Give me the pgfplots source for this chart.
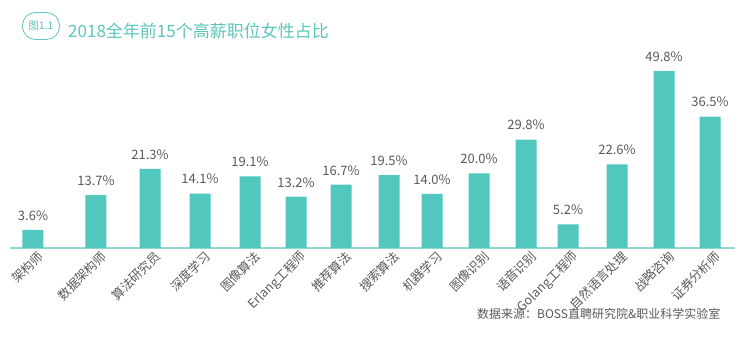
\documentclass[border=0pt]{standalone}
\usepackage{pgfplots}
\pgfplotsset{compat=1.18}
\usepackage{pgfplotstable}
\usepackage{fontspec}
\setmainfont{Noto Sans CJK SC}
\definecolor{barc}{HTML}{52C7BD}
\definecolor{linec}{HTML}{8ED9D2}
\definecolor{txt}{HTML}{595959}
\definecolor{ttl}{HTML}{5CC5BC}
\pgfplotstableread{
x v
33 3.6
96 13.7
150 21.3
200 14.1
250 19.1
296 13.2
341 16.7
389 19.5
432 14.0
479 20.0
526 29.8
568 5.2
617 22.6
664 49.8
710 36.5
}\datatable
\begin{document}
\begin{tikzpicture}[x=1pt,y=1pt]
\path[use as bounding box] (0,0) rectangle (748,361);
\begin{axis}[
  at={(10pt,113pt)}, anchor=south west,
  scale only axis, width=725pt, height=184.7pt,
  xmin=10, xmax=735, ymin=0, ymax=53.7,
  axis x line*=bottom, axis y line=none,
  x axis line style={draw=linec, line width=1.5pt, -},
  ytick=\empty,
  xtick={33,96,150,200,250,296,341,389,432,479,526,568,617,664,710},
  xticklabels={架构师,数据架构师,算法研究员,深度学习,图像算法,Erlang工程师,推荐算法,搜索算法,机器学习,图像识别,语音识别,Golang工程师,自然语言处理,战略咨询,证券分析师},
  major tick length=0pt,
  xticklabel style={rotate=45, anchor=east, font=\fontsize{12.5}{12.5}\selectfont, text=txt, xshift=5pt, yshift=-10pt},
  clip=false,
  ybar, bar width=21pt,
  y filter/.expression={y+1.7},
  point meta=explicit,
  /pgf/number format/assume math mode=true,
  nodes near coords={\pgfmathprintnumber[fixed,fixed zerofill,precision=1]{\pgfplotspointmeta}\%},
  nodes near coords style={font=\fontsize{13}{13}\selectfont, text=txt, anchor=south, yshift=6pt},
]
\addplot[fill=barc, draw=none] table[x=x, y=v, meta=v] {\datatable};
\end{axis}
\node[draw=ttl, line width=0.8pt, rounded corners=13pt, minimum width=37pt, minimum height=27pt, text=ttl, font=\fontsize{10.5}{10.5}\selectfont, inner sep=0pt] at (41,335) {图1.1};
\node[anchor=west, text=ttl, font=\fontsize{17}{17}\selectfont, inner sep=0pt] at (68,330) {2018全年前15个高薪职位女性占比};
\node[anchor=west, text=txt, font=\fontsize{12}{12}\selectfont, inner sep=0pt] at (477,47) {数据来源：BOSS直聘研究院\&职业科学实验室};
\end{tikzpicture}
\end{document}
